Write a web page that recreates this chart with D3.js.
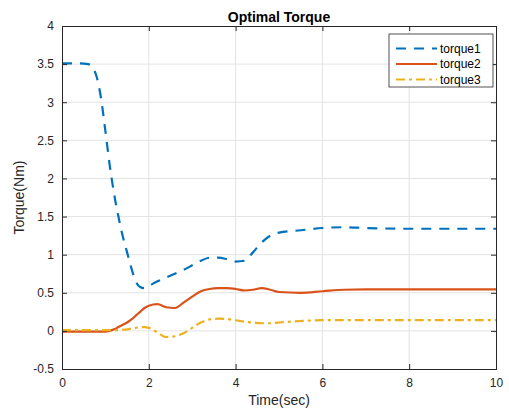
<!DOCTYPE html>
<html><head><meta charset="utf-8">
<script src="https://cdn.jsdelivr.net/npm/d3@7"></script>
<style>body{margin:0;background:#fff}svg{display:block}text{font-family:"Liberation Sans",Arial,sans-serif}</style>
</head><body><div id="c"></div>
<script>
const time = [0,0.3,0.6,0.7,0.8,0.9,1.0,1.1,1.2,1.3,1.4,1.5,1.6,1.7,1.8,1.9,2.0,2.2,2.4,2.6,2.8,3.0,3.2,3.4,3.6,3.8,4.0,4.2,4.4,4.6,4.8,5.0,5.5,6.0,6.5,7,8,9,10];
const torque1 = [3.51,3.51,3.50,3.46,3.33,3.05,2.62,2.17,1.80,1.50,1.24,1.03,0.82,0.65,0.575,0.56,0.59,0.65,0.70,0.75,0.80,0.86,0.92,0.96,0.96,0.94,0.91,0.92,1.03,1.16,1.25,1.29,1.32,1.35,1.36,1.35,1.34,1.34,1.34];
const torque2 = [-0.01,-0.01,-0.01,-0.01,-0.01,-0.01,-0.01,0.0,0.02,0.05,0.08,0.11,0.15,0.20,0.25,0.30,0.33,0.35,0.31,0.30,0.37,0.45,0.52,0.55,0.56,0.56,0.55,0.53,0.54,0.56,0.54,0.51,0.50,0.52,0.54,0.545,0.545,0.545,0.545];
const torque3 = [0.01,0.01,0.01,0.01,0.01,0.01,0.01,0.01,0.01,0.01,0.015,0.02,0.03,0.04,0.05,0.05,0.04,-0.02,-0.08,-0.07,-0.03,0.04,0.11,0.15,0.16,0.155,0.14,0.12,0.11,0.10,0.10,0.11,0.13,0.14,0.14,0.14,0.14,0.14,0.14];
const xTicks = [0,2,4,6,8,10];
const yTicks = [-0.5,0,0.5,1,1.5,2,2.5,3,3.5,4];
const seriesNames = ["torque1","torque2","torque3"];
const colors = ["#0072BD","#D95319","#EDB120"];
const dashes = ["10,8","none","9,4,3,4"];

const W=509,H=410, L=62,R=496,T=26,B=369;
const svg=d3.select("#c").append("svg").attr("width",W).attr("height",H);
const x=d3.scaleLinear().domain([0,10]).range([L,R]);
const y=d3.scaleLinear().domain([-0.5,4]).range([B,T]);

// grid
svg.append("g").selectAll("line").data(xTicks.slice(1,-1)).join("line")
 .attr("x1",d=>x(d)).attr("x2",d=>x(d)).attr("y1",T).attr("y2",B).attr("stroke","#e3e3e3").attr("stroke-width",1);
svg.append("g").selectAll("line").data(yTicks.slice(1,-1)).join("line")
 .attr("y1",d=>y(d)).attr("y2",d=>y(d)).attr("x1",L).attr("x2",R).attr("stroke","#e3e3e3").attr("stroke-width",1);

// lines
const data=[torque1,torque2,torque3];
const line=d3.line().x((d,i)=>x(time[i])).y(d=>y(d)).curve(d3.curveMonotoneX);
data.forEach((s,k)=>{
  svg.append("path").attr("d",line(s)).attr("fill","none").attr("stroke",colors[k])
   .attr("stroke-width",2.2).attr("stroke-dasharray",dashes[k]);
});

// axes
const ax=d3.axisBottom(x).tickValues(xTicks).tickSize(-5).tickPadding(9).tickFormat(d3.format("d"));
const gx=svg.append("g").attr("transform",`translate(0,${B})`).call(ax);
const gxt=svg.append("g").attr("transform",`translate(0,${T})`).call(d3.axisTop(x).tickValues(xTicks).tickSize(-5).tickFormat(""));
const ay=d3.axisLeft(y).tickValues(yTicks).tickSize(-5).tickPadding(8).tickFormat(d=>String(d));
const gy=svg.append("g").attr("transform",`translate(${L},0)`).call(ay);
const gyr=svg.append("g").attr("transform",`translate(${R},0)`).call(d3.axisRight(y).tickValues(yTicks).tickSize(-5).tickFormat(""));
[gx,gxt,gy,gyr].forEach(g=>{
  g.select(".domain").attr("stroke","#262626").attr("stroke-width",1);
  g.selectAll(".tick line").attr("stroke","#262626");
  g.selectAll("text").attr("fill","#262626").style("font-size","12px").style("font-family","'Liberation Sans',Arial,sans-serif");
});

svg.append("text").attr("x",(L+R)/2).attr("y",22).attr("text-anchor","middle").style("font-size","14px").style("font-weight","bold").attr("fill","#000").text("Optimal Torque");
svg.append("text").attr("x",(L+R)/2).attr("y",405).attr("text-anchor","middle").style("font-size","14px").attr("fill","#262626").text("Time(sec)");
svg.append("text").attr("transform",`translate(24,${(T+B)/2}) rotate(-90)`).attr("text-anchor","middle").style("font-size","14px").attr("fill","#262626").text("Torque(Nm)");

// legend
const lg=svg.append("g");
lg.append("rect").attr("x",389).attr("y",34).attr("width",104).attr("height",53).attr("fill","#fff").attr("stroke","#262626").attr("stroke-width",0.8);
seriesNames.forEach((n,k)=>{
  const yy=48.5+k*15.5;
  lg.append("line").attr("x1",396).attr("x2",437).attr("y1",yy).attr("y2",yy).attr("stroke",colors[k]).attr("stroke-width",2.2).attr("stroke-dasharray",dashes[k]);
  lg.append("text").attr("x",440).attr("y",yy+4).style("font-size","12px").attr("fill","#000").text(n);
});
</script></body></html>
